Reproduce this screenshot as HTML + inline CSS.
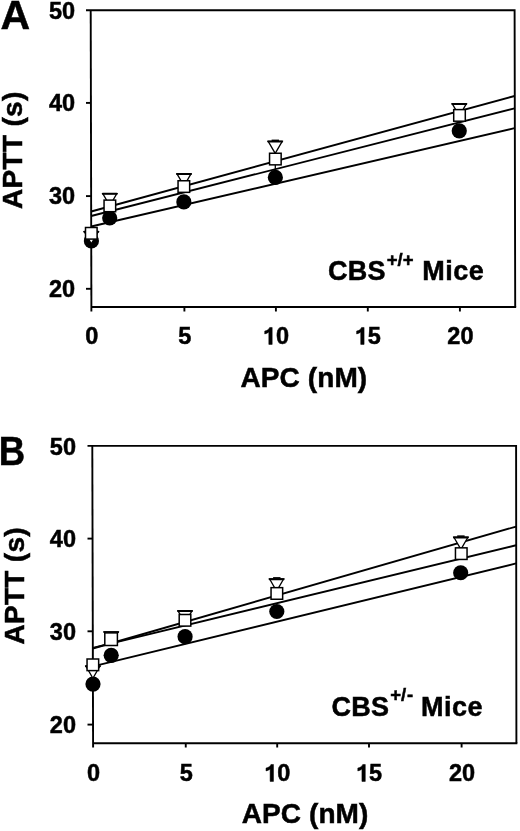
<!DOCTYPE html>
<html><head><meta charset="utf-8"><style>
html,body{margin:0;padding:0;background:#fff;width:520px;height:831px;overflow:hidden}
svg{display:block;will-change:transform}
text{font-family:"Liberation Sans",sans-serif;font-weight:bold;fill:#000;stroke:#000;stroke-width:0.5px}
</style></head><body>
<svg width="520" height="831" viewBox="0 0 520 831">
<path d="M86.0 10.2L514.6 10.2L515.2 307.0" fill="none" stroke="#000" stroke-width="1.9" stroke-linejoin="miter"/>
<path d="M516.1500000000001 307.0L91.4 307.0" fill="none" stroke="#000" stroke-width="2.1"/>
<path d="M90.7 10.2L91.4 311.5" stroke="#000" stroke-width="1.9"/>
<path d="M86.0 102.9L90.92 102.9" stroke="#000" stroke-width="1.9"/>
<path d="M86.0 196.1L91.14 196.1" stroke="#000" stroke-width="1.9"/>
<path d="M86.0 288.8L91.36 288.8" stroke="#000" stroke-width="1.9"/>
<path d="M184.4 307.0L184.4 311.5" stroke="#000" stroke-width="1.9"/>
<path d="M275.9 307.0L275.9 311.5" stroke="#000" stroke-width="1.9"/>
<path d="M367.8 307.0L367.8 311.5" stroke="#000" stroke-width="1.9"/>
<path d="M459.9 307.0L459.9 311.5" stroke="#000" stroke-width="1.9"/>
<path d="M91.18 211.51L514.60 95.97" stroke="#000" stroke-width="1.9"/>
<path d="M91.19 216.03L514.60 108.32" stroke="#000" stroke-width="1.9"/>
<path d="M91.21 226.53L514.60 128.15" stroke="#000" stroke-width="1.9"/>
<circle cx="91.4" cy="240.9" r="7.6" fill="#000"/>
<circle cx="109.7" cy="218.0" r="7.6" fill="#000"/>
<circle cx="183.85" cy="201.95" r="7.6" fill="#000"/>
<circle cx="275.35" cy="177.4" r="7.6" fill="#000"/>
<circle cx="459.25" cy="130.85" r="7.6" fill="#000"/>
<path d="M84.30 231.6L98.30 231.6L91.30 243.72Z" fill="#fff" stroke="#000" stroke-width="1.3"/>
<path d="M84.30 231.80H98.30" stroke="#000" stroke-width="1.9" stroke-linecap="round"/>
<path d="M102.80 193.6L116.80 193.6L109.80 205.72Z" fill="#fff" stroke="#000" stroke-width="1.3"/>
<path d="M102.80 193.80H116.80" stroke="#000" stroke-width="1.9" stroke-linecap="round"/>
<path d="M177.00 173.8L191.00 173.8L184.00 185.92Z" fill="#fff" stroke="#000" stroke-width="1.3"/>
<path d="M177.00 174.00H191.00" stroke="#000" stroke-width="1.9" stroke-linecap="round"/>
<path d="M268.20 141.3L282.20 141.3L275.20 153.42Z" fill="#fff" stroke="#000" stroke-width="1.3"/>
<path d="M268.20 141.50H282.20" stroke="#000" stroke-width="1.9" stroke-linecap="round"/>
<path d="M452.30 103.8L466.30 103.8L459.30 115.92Z" fill="#fff" stroke="#000" stroke-width="1.3"/>
<path d="M452.30 104.00H466.30" stroke="#000" stroke-width="1.9" stroke-linecap="round"/>
<path d="M271.60 140.4H279.00" stroke="#000" stroke-width="1.6"/>
<path d="M275.3 165.0V170.5" stroke="#000" stroke-width="1.3"/>
<rect x="85.50" y="227.50" width="11.60" height="11.60" fill="#fff" stroke="#000" stroke-width="1.5"/>
<rect x="104.05" y="200.10" width="11.60" height="11.60" fill="#fff" stroke="#000" stroke-width="1.5"/>
<rect x="178.05" y="180.75" width="11.60" height="11.60" fill="#fff" stroke="#000" stroke-width="1.5"/>
<rect x="269.55" y="153.25" width="11.60" height="11.60" fill="#fff" stroke="#000" stroke-width="1.5"/>
<rect x="453.70" y="109.60" width="11.60" height="11.60" fill="#fff" stroke="#000" stroke-width="1.5"/>
<text x="75.2" y="19.00" font-size="23.5" text-anchor="end">50</text>
<text x="75.2" y="111.10" font-size="23.5" text-anchor="end">40</text>
<text x="75.2" y="204.30" font-size="23.5" text-anchor="end">30</text>
<text x="75.2" y="297.00" font-size="23.5" text-anchor="end">20</text>
<text x="91.8" y="344.4" font-size="23.5" text-anchor="middle">0</text>
<text x="184.9" y="344.4" font-size="23.5" text-anchor="middle">5</text>
<path transform="translate(262.83 344.4) scale(0.0235 -0.0235)" d="M398 0L398 720L290 720C265 650 190 590 80 565L80 445C150 460 215 490 255 530L255 0Z" fill="#000" stroke="#000" stroke-width="0.5" vector-effect="non-scaling-stroke"/>
<text x="275.90" y="344.4" font-size="23.5">0</text>
<path transform="translate(354.73 344.4) scale(0.0235 -0.0235)" d="M398 0L398 720L290 720C265 650 190 590 80 565L80 445C150 460 215 490 255 530L255 0Z" fill="#000" stroke="#000" stroke-width="0.5" vector-effect="non-scaling-stroke"/>
<text x="367.80" y="344.4" font-size="23.5">5</text>
<text x="460.4" y="344.4" font-size="23.5" text-anchor="middle">20</text>
<text x="0.58" y="29.45" font-size="41">A</text>
<text x="240.5" y="386.5" font-size="28" letter-spacing="0.1">APC (nM)</text>
<text transform="translate(22.4 208.9) rotate(-90)" font-size="28" letter-spacing="0.3">APTT (s)</text>
<text x="327.9" y="280.0" font-size="27" letter-spacing="0.3">CBS</text>
<text x="386.7" y="265.5" font-size="18.5">+/+</text>
<text x="422.3" y="280.0" font-size="27" letter-spacing="0.5">Mice</text>
<path d="M87.5 445.9L516.1 445.9L516.4 743.2" fill="none" stroke="#000" stroke-width="1.9" stroke-linejoin="miter"/>
<path d="M517.35 743.2L93.1 743.2" fill="none" stroke="#000" stroke-width="2.1"/>
<path d="M92.3 445.9L93.1 747.5" stroke="#000" stroke-width="1.9"/>
<path d="M87.5 538.6L92.55 538.6" stroke="#000" stroke-width="1.9"/>
<path d="M87.5 631.3L92.80 631.3" stroke="#000" stroke-width="1.9"/>
<path d="M87.5 724.6L93.05 724.6" stroke="#000" stroke-width="1.9"/>
<path d="M185.75 743.2L185.75 747.5" stroke="#000" stroke-width="1.9"/>
<path d="M277.2 743.2L277.2 747.5" stroke="#000" stroke-width="1.9"/>
<path d="M369.0 743.2L369.0 747.5" stroke="#000" stroke-width="1.9"/>
<path d="M461.6 743.2L461.6 747.5" stroke="#000" stroke-width="1.9"/>
<path d="M92.85 648.52L516.10 526.55" stroke="#000" stroke-width="1.9"/>
<path d="M92.84 647.80L516.10 545.21" stroke="#000" stroke-width="1.9"/>
<path d="M92.89 666.42L516.10 563.45" stroke="#000" stroke-width="1.9"/>
<circle cx="93.0" cy="684.1" r="7.6" fill="#000"/>
<circle cx="111.2" cy="655.3" r="7.6" fill="#000"/>
<circle cx="185.1" cy="636.7" r="7.6" fill="#000"/>
<circle cx="276.8" cy="611.5" r="7.6" fill="#000"/>
<circle cx="460.7" cy="572.75" r="7.6" fill="#000"/>
<path d="M85.90 666.1L99.90 666.1L92.90 678.22Z" fill="#fff" stroke="#000" stroke-width="1.3"/>
<path d="M85.90 666.30H99.90" stroke="#000" stroke-width="1.9" stroke-linecap="round"/>
<path d="M104.20 631.9L118.20 631.9L111.20 644.02Z" fill="#fff" stroke="#000" stroke-width="1.3"/>
<path d="M104.20 632.10H118.20" stroke="#000" stroke-width="1.9" stroke-linecap="round"/>
<path d="M178.00 610.8L192.00 610.8L185.00 622.92Z" fill="#fff" stroke="#000" stroke-width="1.3"/>
<path d="M178.00 611.00H192.00" stroke="#000" stroke-width="1.9" stroke-linecap="round"/>
<path d="M269.60 579.0L283.60 579.0L276.60 591.12Z" fill="#fff" stroke="#000" stroke-width="1.3"/>
<path d="M269.60 579.20H283.60" stroke="#000" stroke-width="1.9" stroke-linecap="round"/>
<path d="M453.90 537.25L467.90 537.25L460.90 549.37Z" fill="#fff" stroke="#000" stroke-width="1.3"/>
<path d="M453.90 537.45H467.90" stroke="#000" stroke-width="1.9" stroke-linecap="round"/>
<path d="M273.10 577.9H280.50" stroke="#000" stroke-width="1.6"/>
<path d="M457.20 536.15H464.60" stroke="#000" stroke-width="1.6"/>
<rect x="87.05" y="659.00" width="11.60" height="11.60" fill="#fff" stroke="#000" stroke-width="1.5"/>
<rect x="104.80" y="632.90" width="12.60" height="12.60" fill="#fff" stroke="#000" stroke-width="1.5"/>
<rect x="179.20" y="614.50" width="11.60" height="11.60" fill="#fff" stroke="#000" stroke-width="1.5"/>
<rect x="271.05" y="587.65" width="11.60" height="11.60" fill="#fff" stroke="#000" stroke-width="1.5"/>
<rect x="455.45" y="547.85" width="11.60" height="11.60" fill="#fff" stroke="#000" stroke-width="1.5"/>
<text x="76.0" y="454.60" font-size="23.5" text-anchor="end">50</text>
<text x="76.0" y="547.30" font-size="23.5" text-anchor="end">40</text>
<text x="76.0" y="640.00" font-size="23.5" text-anchor="end">30</text>
<text x="76.0" y="733.30" font-size="23.5" text-anchor="end">20</text>
<text x="93.5" y="781.4" font-size="23.5" text-anchor="middle">0</text>
<text x="186.25" y="781.4" font-size="23.5" text-anchor="middle">5</text>
<path transform="translate(264.13 781.4) scale(0.0235 -0.0235)" d="M398 0L398 720L290 720C265 650 190 590 80 565L80 445C150 460 215 490 255 530L255 0Z" fill="#000" stroke="#000" stroke-width="0.5" vector-effect="non-scaling-stroke"/>
<text x="277.20" y="781.4" font-size="23.5">0</text>
<path transform="translate(355.93 781.4) scale(0.0235 -0.0235)" d="M398 0L398 720L290 720C265 650 190 590 80 565L80 445C150 460 215 490 255 530L255 0Z" fill="#000" stroke="#000" stroke-width="0.5" vector-effect="non-scaling-stroke"/>
<text x="369.00" y="781.4" font-size="23.5">5</text>
<text x="462.1" y="781.4" font-size="23.5" text-anchor="middle">20</text>
<text transform="translate(12.45 465.45) scale(0.915 1)" x="-14.87" y="0" font-size="40">B</text>
<text x="241.7" y="823.4" font-size="28" letter-spacing="0.1">APC (nM)</text>
<text transform="translate(23.8 644.6) rotate(-90)" font-size="28" letter-spacing="0.3">APTT (s)</text>
<text x="331.5" y="715.5" font-size="27" letter-spacing="0.3">CBS</text>
<text x="390.3" y="700.9" font-size="18.5">+/<tspan dx="0.8" dy="0.5">-</tspan></text>
<text x="421.1" y="715.5" font-size="27" letter-spacing="0.5">Mice</text>
</svg>
</body></html>
